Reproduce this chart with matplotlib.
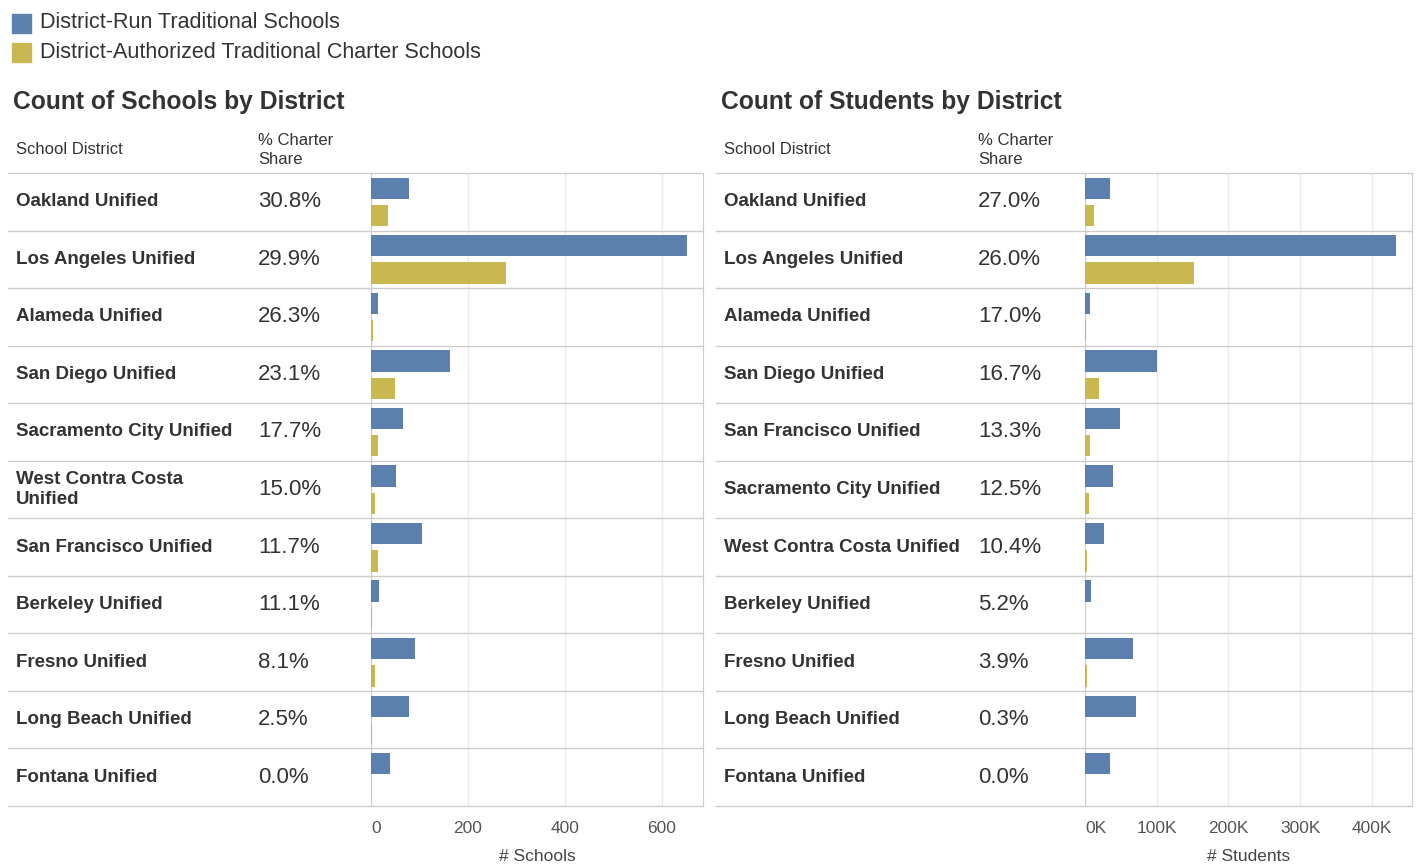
import numpy as np
import matplotlib
matplotlib.use("Agg")
import matplotlib.pyplot as plt
import matplotlib.transforms as mtransforms
from matplotlib.patches import Rectangle

plt.rcParams["font.family"] = ["Liberation Sans", "DejaVu Sans"]

# Count of schools by district
school_districts = ["Oakland Unified", "Los Angeles Unified", "Alameda Unified",
                    "San Diego Unified", "Sacramento City Unified",
                    "West Contra Costa\nUnified", "San Francisco Unified",
                    "Berkeley Unified", "Fresno Unified", "Long Beach Unified",
                    "Fontana Unified"]
school_pct = ["30.8%", "29.9%", "26.3%", "23.1%", "17.7%", "15.0%", "11.7%",
              "11.1%", "8.1%", "2.5%", "0.0%"]
school_run = [79, 652, 14, 163, 65, 51, 106, 16, 91, 78, 39]
school_charter = [35, 278, 5, 49, 14, 9, 14, 2, 8, 2, 0]

# Count of students by district
student_districts = ["Oakland Unified", "Los Angeles Unified", "Alameda Unified",
                     "San Diego Unified", "San Francisco Unified",
                     "Sacramento City Unified", "West Contra Costa Unified",
                     "Berkeley Unified", "Fresno Unified", "Long Beach Unified",
                     "Fontana Unified"]
student_pct = ["27.0%", "26.0%", "17.0%", "16.7%", "13.3%", "12.5%", "10.4%",
               "5.2%", "3.9%", "0.3%", "0.0%"]
student_run = [35000, 433000, 6500, 100000, 49000, 39000, 26500, 8500, 67000, 71000, 35000]
student_charter = [13000, 152000, 1330, 20000, 7500, 5600, 3100, 460, 2700, 200, 0]

school_ticks = [0, 200, 400, 600]
school_ticklabels = ["0", "200", "400", "600"]
student_ticks = [0, 100000, 200000, 300000, 400000]
student_ticklabels = ["0K", "100K", "200K", "300K", "400K"]

legend_labels = ["District-Run Traditional Schools",
                 "District-Authorized Traditional Charter Schools"]

BLUE = "#5b80ad"
GOLD = "#c8b84f"
TEXT = "#333333"
LINE = "#cccccc"
GRID = "#ebebeb"

W, H = 1419, 865
fig = plt.figure(figsize=(W / 100, H / 100), dpi=100)


def fx(px):
    return px / W


def fy(py):
    return 1 - py / H


def panel(title, left_edge, name_x, pct_x, x0, x1, names, pct, run, charter,
          xmax, ticks, ticklabels, xlabel):
    ax = fig.add_axes([fx(x0), fy(806), fx(x1) - fx(x0), fy(173) - fy(806)])
    n = len(names)
    rows = np.arange(n)
    ax.barh(rows + 0.265, run, height=0.37, color=BLUE, zorder=3)
    ax.barh(rows + 0.74, charter, height=0.37, color=GOLD, zorder=3)
    ax.set_ylim(n, 0)
    ax.set_xlim(0, xmax)
    ax.set_yticks([])
    ax.set_xticks(ticks)
    ax.set_xticklabels(ticklabels)
    ax.tick_params(axis="x", length=0, pad=11, labelsize=12.5, labelcolor="#555555")
    ax.get_xticklabels()[0].set_horizontalalignment("left")
    ax.grid(axis="x", color=GRID, lw=1)
    ax.set_axisbelow(True)
    for s in ["top", "bottom"]:
        ax.spines[s].set_visible(False)
    for s in ["left", "right"]:
        ax.spines[s].set_color(LINE)
    ax.set_xlabel(xlabel, fontsize=12.5, color="#444444", labelpad=9)

    # row separators across the whole table
    lo = (left_edge - x0) / (x1 - x0)
    for i in range(n + 1):
        ax.axhline(i, xmin=lo, xmax=1, color=LINE, lw=1, clip_on=False, zorder=4)

    trans = mtransforms.blended_transform_factory(fig.transFigure, ax.transData)
    for i in range(n):
        ax.text(fx(name_x), i + 0.5, names[i], transform=trans, va="center",
                ha="left", fontsize=13.5, fontweight="bold", color=TEXT,
                linespacing=1.2)
        ax.text(fx(pct_x), i + 0.5, pct[i], transform=trans, va="center",
                ha="left", fontsize=16, color=TEXT)

    fig.text(fx(name_x - 3), fy(102), title, fontsize=17.7, fontweight="bold",
             color=TEXT, va="center", ha="left")
    fig.text(fx(name_x), fy(150), "School District", fontsize=12,
             color=TEXT, va="center", ha="left")
    fig.text(fx(pct_x), fy(150), "% Charter\nShare", fontsize=12,
             color=TEXT, va="center", ha="left", linespacing=1.3)
    return ax


panel("Count of Schools by District", 8, 16, 258, 371, 703,
      school_districts, school_pct, school_run, school_charter,
      685, school_ticks, school_ticklabels, "# Schools")
panel("Count of Students by District", 716, 724, 978, 1085, 1412,
      student_districts, student_pct, student_run, student_charter,
      456000, student_ticks, student_ticklabels, "# Students")

# legend
for k, (lab, col) in enumerate(zip(legend_labels, [BLUE, GOLD])):
    yc = 23 + 29 * k
    fig.patches.append(Rectangle((fx(12), fy(yc + 10)), fx(19), 19 / H,
                                 transform=fig.transFigure, color=col))
    fig.text(fx(40), fy(yc), lab, fontsize=15.5, color=TEXT, va="center", ha="left")

fig.savefig("out.png", dpi=100, facecolor="white")
